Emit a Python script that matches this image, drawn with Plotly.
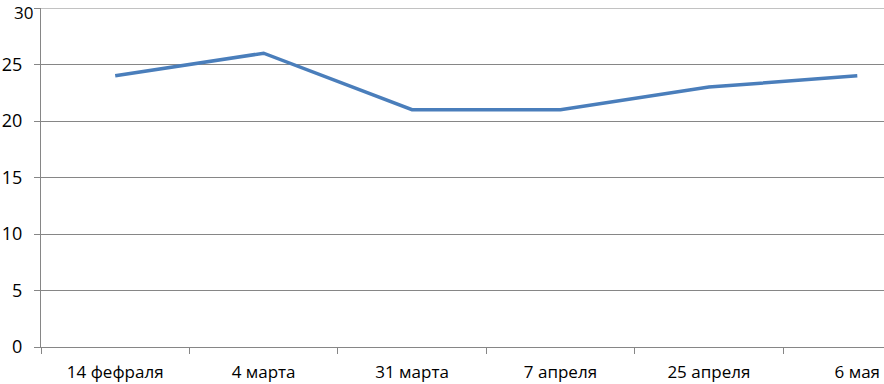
import plotly.graph_objects as go

categories = ["14 фефраля", "4 марта", "31 марта", "7 апреля", "25 апреля", "6 мая"]
values = [24, 26, 21, 21, 23, 24]
y_ticks = [0, 5, 10, 15, 20, 25, 30]
y_max = 30

fig = go.Figure()
fig.add_trace(go.Scatter(x=categories, y=values, mode="lines",
                         line=dict(color="#4a7ebb", width=3.5)))

plot_w = 884 - 41
top_margin = 8
fig.update_layout(
    width=884, height=384,
    margin=dict(l=41, r=0, t=top_margin, b=37),
    paper_bgcolor="white", plot_bgcolor="white",
    showlegend=False,
    font=dict(family="Open Sans", size=15, color="#000000"),
)
# top gridline + tick and its label (plotly drops the top tick when its label touches the page edge)
fig.add_shape(type="line", xref="paper", yref="y", x0=-6 / plot_w, x1=1,
              y0=y_max, y1=y_max, line=dict(color="#868686", width=1))
fig.add_annotation(xref="paper", yref="paper", x=0, y=1, text=str(y_max),
                   showarrow=False, xanchor="right", yanchor="top",
                   xshift=-7, yshift=top_margin, borderpad=0,
                   font=dict(size=17, family="Open Sans", color="#000000"))
fig.update_xaxes(
    type="category", range=[-0.5, 5.18],
    showgrid=False, showline=True, linecolor="#868686", linewidth=1,
    ticks="outside", tickson="boundaries", ticklen=6, tickcolor="#868686",
    tickfont=dict(size=17), ticklabelstandoff=10, zeroline=False,
)
fig.update_yaxes(
    range=[0, y_max], tickvals=y_ticks, tickmode="array",
    showgrid=True, gridcolor="#868686", gridwidth=1,
    showline=True, linecolor="#868686", linewidth=1,
    ticks="outside", ticklen=6, tickcolor="#868686",
    tickfont=dict(size=18), ticklabelstandoff=8, zeroline=False,
)
fig.write_html("out.html")
